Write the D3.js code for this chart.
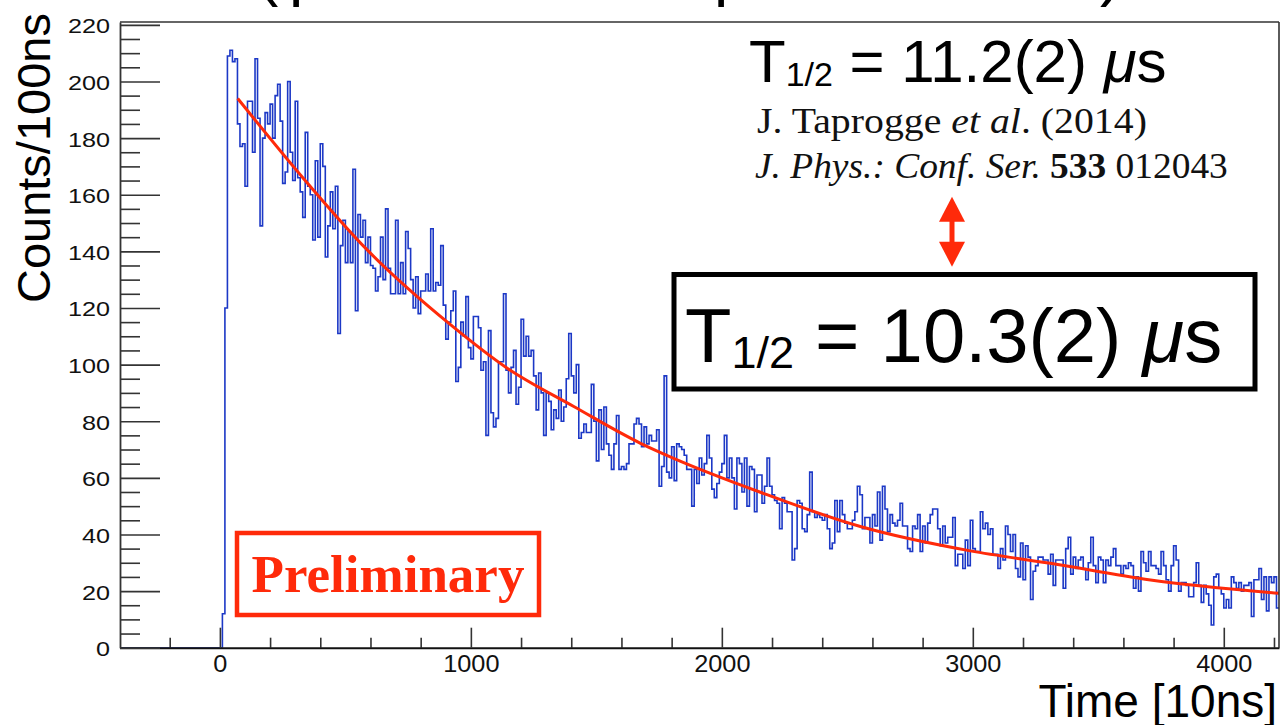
<!DOCTYPE html>
<html><head><meta charset="utf-8">
<script src="https://cdn.jsdelivr.net/npm/d3@7"></script>
<style>html,body{margin:0;padding:0;background:#fff;overflow:hidden}svg{display:block}</style>
</head><body>
<svg id="c" width="1281" height="725"></svg>
<script>
// ---------------- data ----------------
const binWidth = 10;          // in units of 10 ns
const histStart = -400;       // histogram drawn (empty) from here
const counts = [
  0,12,120,209,211,207,208,185,177,178,
  163,193,193,175,208,187,149,180,189,185,
  192,180,195,199,186,164,168,200,175,165,
  193,166,161,152,182,163,160,144,172,145,
  178,170,138,149,161,148,163,111,142,151,
  136,147,136,169,119,153,145,151,136,145,
  135,134,126,131,145,130,155,134,125,125,
  151,125,136,125,147,141,130,120,131,118,
  126,126,132,126,148,126,129,128,142,121,
  109,115,119,126,94,99,115,110,124,106,
  102,117,117,113,98,101,75,112,83,78,
  81,101,101,125,98,90,99,105,86,92,
  116,103,110,103,105,96,84,97,90,75,
  90,87,77,84,81,91,80,85,95,111,
  96,90,100,74,76,79,76,76,93,80,
  66,84,70,85,72,68,63,72,82,63,
  64,63,65,72,72,79,81,79,71,78,
  72,75,73,73,77,57,64,96,62,60,
  71,59,72,71,70,68,63,63,50,63,
  58,67,61,65,75,67,56,53,58,62,
  65,75,60,67,60,49,67,65,55,67,
  50,64,63,48,61,61,51,57,67,57,
  54,52,51,42,53,51,48,48,31,35,
  52,51,42,41,47,62,48,46,47,46,
  45,47,42,35,37,52,41,52,47,44,
  42,42,45,48,57,54,42,46,46,37,
  47,43,55,38,57,49,41,47,44,43,
  45,51,43,43,35,34,43,42,47,34,
  43,37,44,47,49,49,42,36,43,37,
  39,39,46,29,33,33,28,38,29,45,
  35,34,34,48,42,44,40,42,33,33,
  28,35,31,43,40,34,40,28,25,37,
  24,36,32,17,27,29,32,32,31,31,
  26,33,22,31,31,31,21,35,39,26,
  32,28,31,32,28,24,30,39,29,23,
  32,31,23,31,29,32,35,29,29,26,
  29,28,30,29,21,25,20,34,30,27,
  34,29,29,28,26,34,29,24,20,29,
  36,31,20,23,23,22,18,18,23,30,
  22,16,22,19,15,8,25,26,21,19,
  14,17,14,25,23,21,23,20,22,22,
  23,11,24,24,28,17,25,13,25,23,
  25,14
];
const fitTimes  = [71, 321, 587, 920, 1145, 1410, 1676, 1808, 2154, 2552, 2990, 3309, 3708, 4220];
const fitValues = [194, 167, 140.5, 114, 98.7, 85.2, 72.2, 66.9, 54.9, 42.8, 34.2, 29.8, 23.9, 19.2];
const xDomain = [-400, 4220];
const yDomain = [0, 221];
const xMajorTicks = [0, 1000, 2000, 3000, 4000];
const xTickLabels = ["0", "1000", "2000", "3000", "4000"];
const xMinorTicks = [-200, 200, 400, 600, 800, 1200, 1400, 1600, 1800, 2200, 2400, 2600, 2800, 3200, 3400, 3600, 3800, 4200];
const yMajorTicks = [0, 20, 40, 60, 80, 100, 120, 140, 160, 180, 200, 220];
const yTickLabels = ["0", "20", "40", "60", "80", "100", "120", "140", "160", "180", "200", "220"];
const yMinorTicks = d3.range(5, 220, 5).filter(v => v % 20 !== 0);
const xTitle = "Time [10ns]";
const yTitle = "Counts/100ns";
const literatureValue = " = 11.2(2) ";
const measuredValue = " = 10.3(2) ";
const refLine1 = [["J. Taprogge ", "normal", "normal"], ["et al", "italic", "normal"], [". (2014)", "normal", "normal"]];
const refLine2 = [["J. Phys.: Conf. Ser. ", "italic", "normal"], ["533", "normal", "bold"], [" 012043", "normal", "normal"]];
const stampText = "Preliminary";

// ---------------- layout ----------------
const SANS = "'Liberation Sans', Arial, Helvetica, sans-serif";
const SERIF = "'Liberation Serif', 'Times New Roman', serif";
const RED = "#ff2a0a";
const BLUE = "#1c38c6";
const plot = {left: 120, right: 1279, top: 22, bottom: 647.7};

const svg = d3.select("#c");
const x = d3.scaleLinear().domain(xDomain).range([119.5, plot.right]);
const y = d3.scaleLinear().domain(yDomain).range([plot.bottom, plot.top]);

// cut-off title fragments at very top
[["(", 257], ["p", 289], ["p", 714], [")", 1100]].forEach(([s, px]) => {
  svg.append("text").attr("x", px).attr("y", -6).attr("font-family", SANS)
    .attr("font-size", 64).attr("fill", "#000").text(s);
});

svg.append("defs").append("clipPath").attr("id", "clip")
  .append("rect").attr("x", plot.left).attr("y", plot.top)
  .attr("width", plot.right - plot.left).attr("height", plot.bottom - plot.top);

// histogram
const pts = [{t: histStart, v: 0}];
counts.forEach((c, i) => pts.push({t: i * binWidth, v: c}));
pts.push({t: counts.length * binWidth, v: counts[counts.length - 1]});
const histLine = d3.line().x(d => x(d.t)).y(d => y(d.v)).curve(d3.curveStepAfter);
svg.append("path").datum(pts).attr("clip-path", "url(#clip)")
  .attr("d", histLine).attr("fill", "none").attr("stroke", BLUE).attr("stroke-width", 1.6);

// fit
const fitPts = fitTimes.map((t, i) => ({t, v: fitValues[i]}));
svg.append("path").datum(fitPts).attr("clip-path", "url(#clip)")
  .attr("d", d3.line().x(d => x(d.t)).y(d => y(d.v)).curve(d3.curveMonotoneX))
  .attr("fill", "none").attr("stroke", RED).attr("stroke-width", 3);

// frame
svg.append("line").attr("x1", plot.left).attr("x2", plot.right).attr("y1", plot.top).attr("y2", plot.top)
  .attr("stroke", "#333").attr("stroke-width", 1.6);
svg.append("line").attr("x1", plot.right).attr("x2", plot.right).attr("y1", plot.top).attr("y2", plot.bottom)
  .attr("stroke", "#333").attr("stroke-width", 1.6);

// axes
const tickStyle = g => g.selectAll("line").attr("stroke", "#333").attr("stroke-width", 1.6);
const xMinorG = svg.append("g").attr("transform", `translate(0,${plot.bottom})`)
  .call(d3.axisBottom(x).tickValues(xMinorTicks).tickSizeInner(-10).tickSizeOuter(0).tickFormat(""));
xMinorG.select(".domain").remove(); tickStyle(xMinorG);
const xG = svg.append("g").attr("transform", `translate(0,${plot.bottom})`)
  .call(d3.axisBottom(x).tickValues(xMajorTicks).tickSizeInner(-20).tickSizeOuter(0)
    .tickFormat((d, i) => xTickLabels[i]));
xG.select(".domain").attr("stroke", "#111").attr("stroke-width", 2);
tickStyle(xG);
xG.selectAll("text").attr("y", 24).attr("dy", null).attr("font-family", SANS).attr("font-size", 23)
  .attr("fill", "#111").attr("transform", "scale(1.1,1)");

const yMinorG = svg.append("g").attr("transform", `translate(${plot.left},0)`)
  .call(d3.axisLeft(y).tickValues(yMinorTicks).tickSizeInner(-20).tickSizeOuter(0).tickFormat(""));
yMinorG.select(".domain").remove(); tickStyle(yMinorG);
const yG = svg.append("g").attr("transform", `translate(${plot.left},0)`)
  .call(d3.axisLeft(y).tickValues(yMajorTicks).tickSizeInner(-40).tickSizeOuter(0)
    .tickFormat((d, i) => yTickLabels[i]));
yG.select(".domain").attr("stroke", "#333").attr("stroke-width", 1.8);
tickStyle(yG);
yG.selectAll("text").attr("x", -10 / 1.2).attr("dy", "0.38em").attr("font-family", SANS)
  .attr("font-size", 21).attr("fill", "#111").attr("transform", "scale(1.2,1)");

// axis titles
svg.append("text").attr("transform", "translate(50,13) rotate(-90)").attr("text-anchor", "end")
  .attr("font-family", SANS).attr("font-size", 47).attr("fill", "#000").text(yTitle);
svg.append("text").attr("x", 1277).attr("y", 717).attr("text-anchor", "end")
  .attr("font-family", SANS).attr("font-size", 46).attr("fill", "#000").text(xTitle);

// half-life texts
function halfLife(px, py, fs, subFs, subDy, value) {
  const t = svg.append("text").attr("x", px).attr("y", py).attr("font-family", SANS)
    .attr("font-size", fs).attr("fill", "#000");
  t.append("tspan").text("T");
  t.append("tspan").attr("font-size", subFs).attr("dy", subDy).text("1/2");
  t.append("tspan").attr("dy", -subDy).text(value);
  t.append("tspan").attr("font-style", "italic").text("μ");
  t.append("tspan").text("s");
  return t;
}
halfLife(749, 82, 60, 34, 4, literatureValue);

function refLine(px, py, parts, width) {
  const g = svg.append("g").attr("transform", `translate(${px},${py})`);
  const t = g.append("text").attr("x", 0).attr("y", 0).attr("font-family", SERIF)
    .attr("font-size", 35).attr("fill", "#111");
  parts.forEach(([s, st, w]) => t.append("tspan").attr("font-style", st).attr("font-weight", w).text(s));
  const w = t.node().getComputedTextLength();
  t.attr("transform", `scale(${width / w},1)`);
}
refLine(757, 133, refLine1, 390);
refLine(755, 178, refLine2, 473);

// red double arrow
const ax = 952;
svg.append("rect").attr("x", ax - 2.5).attr("y", 215).attr("width", 5).attr("height", 34).attr("fill", RED);
svg.append("path").attr("d", `M${ax},196.7 L${ax - 13},221.7 L${ax + 13},221.7 Z`).attr("fill", RED);
svg.append("path").attr("d", `M${ax},266.7 L${ax - 13},241.7 L${ax + 13},241.7 Z`).attr("fill", RED);

// measured half-life box
svg.append("rect").attr("x", 674).attr("y", 274.5).attr("width", 581).attr("height", 114.5)
  .attr("fill", "#fff").attr("stroke", "#000").attr("stroke-width", 5);
halfLife(685, 362, 76, 45, 6, measuredValue);

// preliminary stamp
svg.append("rect").attr("x", 237).attr("y", 533).attr("width", 302).attr("height", 82)
  .attr("fill", "none").attr("stroke", RED).attr("stroke-width", 4.5);
svg.append("text").attr("x", 388).attr("y", 592).attr("text-anchor", "middle")
  .attr("font-family", SERIF).attr("font-weight", "bold").attr("font-size", 53)
  .attr("fill", RED).text(stampText);
</script>
</body></html>
